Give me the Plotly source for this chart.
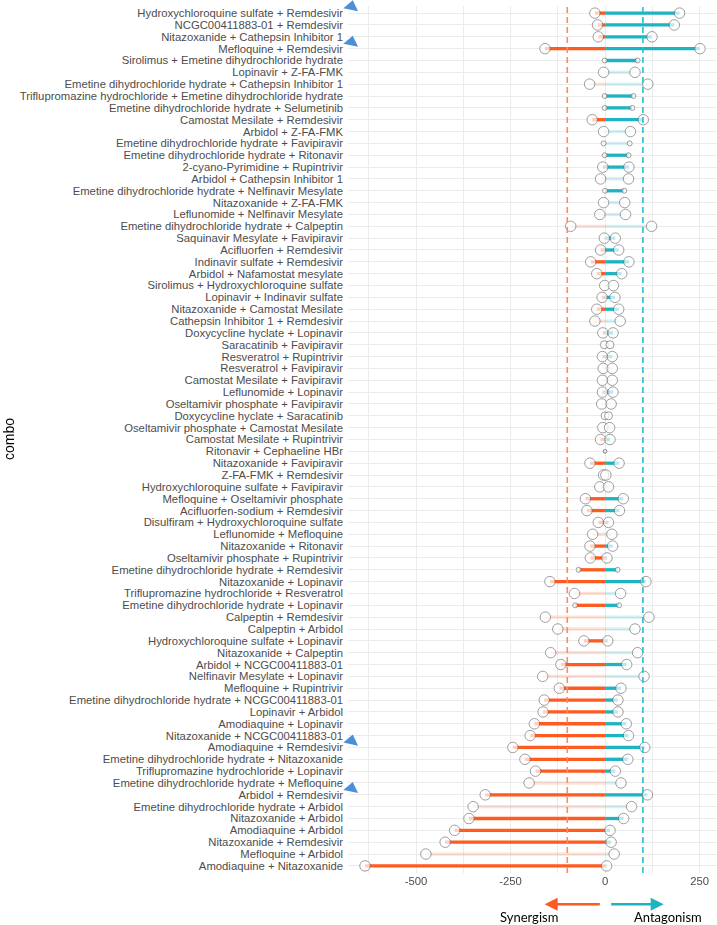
import plotly.graph_objects as go

combos = [
    "Hydroxychloroquine sulfate + Remdesivir",
    "NCGC00411883-01 + Remdesivir",
    "Nitazoxanide + Cathepsin Inhibitor 1",
    "Mefloquine + Remdesivir",
    "Sirolimus + Emetine dihydrochloride hydrate",
    "Lopinavir + Z-FA-FMK",
    "Emetine dihydrochloride hydrate + Cathepsin Inhibitor 1",
    "Triflupromazine hydrochloride + Emetine dihydrochloride hydrate",
    "Emetine dihydrochloride hydrate + Selumetinib",
    "Camostat Mesilate + Remdesivir",
    "Arbidol + Z-FA-FMK",
    "Emetine dihydrochloride hydrate + Favipiravir",
    "Emetine dihydrochloride hydrate + Ritonavir",
    "2-cyano-Pyrimidine + Rupintrivir",
    "Arbidol + Cathepsin Inhibitor 1",
    "Emetine dihydrochloride hydrate + Nelfinavir Mesylate",
    "Nitazoxanide + Z-FA-FMK",
    "Leflunomide + Nelfinavir Mesylate",
    "Emetine dihydrochloride hydrate + Calpeptin",
    "Saquinavir Mesylate + Favipiravir",
    "Acifluorfen + Remdesivir",
    "Indinavir sulfate + Remdesivir",
    "Arbidol + Nafamostat mesylate",
    "Sirolimus + Hydroxychloroquine sulfate",
    "Lopinavir + Indinavir sulfate",
    "Nitazoxanide + Camostat Mesilate",
    "Cathepsin Inhibitor 1 + Remdesivir",
    "Doxycycline hyclate + Lopinavir",
    "Saracatinib + Favipiravir",
    "Resveratrol + Rupintrivir",
    "Resveratrol + Favipiravir",
    "Camostat Mesilate + Favipiravir",
    "Leflunomide + Lopinavir",
    "Oseltamivir phosphate + Favipiravir",
    "Doxycycline hyclate + Saracatinib",
    "Oseltamivir phosphate + Camostat Mesilate",
    "Camostat Mesilate + Rupintrivir",
    "Ritonavir + Cephaeline HBr",
    "Nitazoxanide + Favipiravir",
    "Z-FA-FMK + Remdesivir",
    "Hydroxychloroquine sulfate + Favipiravir",
    "Mefloquine + Oseltamivir phosphate",
    "Acifluorfen-sodium + Remdesivir",
    "Disulfiram + Hydroxychloroquine sulfate",
    "Leflunomide + Mefloquine",
    "Nitazoxanide + Ritonavir",
    "Oseltamivir phosphate + Rupintrivir",
    "Emetine dihydrochloride hydrate + Remdesivir",
    "Nitazoxanide + Lopinavir",
    "Triflupromazine hydrochloride + Resveratrol",
    "Emetine dihydrochloride hydrate + Lopinavir",
    "Calpeptin + Remdesivir",
    "Calpeptin + Arbidol",
    "Hydroxychloroquine sulfate + Lopinavir",
    "Nitazoxanide + Calpeptin",
    "Arbidol + NCGC00411883-01",
    "Nelfinavir Mesylate + Lopinavir",
    "Mefloquine + Rupintrivir",
    "Emetine dihydrochloride hydrate + NCGC00411883-01",
    "Lopinavir + Arbidol",
    "Amodiaquine + Lopinavir",
    "Nitazoxanide + NCGC00411883-01",
    "Amodiaquine + Remdesivir",
    "Emetine dihydrochloride hydrate + Nitazoxanide",
    "Triflupromazine hydrochloride + Lopinavir",
    "Emetine dihydrochloride hydrate + Mefloquine",
    "Arbidol + Remdesivir",
    "Emetine dihydrochloride hydrate + Arbidol",
    "Nitazoxanide + Arbidol",
    "Amodiaquine + Arbidol",
    "Nitazoxanide + Remdesivir",
    "Mefloquine + Arbidol",
    "Amodiaquine + Nitazoxanide",
]

min_effect = [
    -27, -20, -18, -159, -1, -4, -41, -1, -1, -34,
    -4, -4, -1, -6, -12, 0, -4, -14, -91, -2,
    -12, -38, -22, -1, -8, -22, -27, -6, -2, -7,
    -5, -7, -7, -9, 0, -6, -12, 0, -40, -4,
    -14, -52, -48, -18, -33, -40, -39, -70, -146, -81,
    -79, -158, -125, -56, -144, -117, -165, -121, -161, -164,
    -187, -198, -244, -212, -184, -201, -317, -349, -360, -398,
    -423, -474, -635,
]

max_effect = [
    197, 183, 124, 251, 86, 79, 113, 75, 72, 101,
    67, 65, 62, 63, 62, 51, 52, 54, 123, 27,
    36, 63, 44, 22, 26, 36, 40, 21, 13, 19,
    19, 19, 21, 16, 9, 12, 13, 0, 37, 2,
    9, 48, 38, 9, 18, 20, 5, 33, 108, 41,
    37, 116, 79, 7, 86, 57, 103, 42, 34, 34,
    56, 62, 105, 60, 27, 42, 112, 70, 49, 13,
    16, 24, 4,
]

# replicate class: 0 = single, 1 = few, 2 = medium, 3 = full set
replicate_class = [
    3, 3, 3, 3, 1, 3, 3, 1, 1, 3,
    3, 1, 1, 3, 3, 1, 3, 3, 3, 3,
    3, 3, 3, 3, 3, 3, 3, 3, 2, 3,
    3, 3, 3, 3, 2, 3, 3, 0, 3, 3,
    3, 3, 3, 3, 3, 3, 3, 1, 3, 3,
    1, 3, 3, 3, 3, 3, 3, 3, 3, 3,
    3, 3, 3, 3, 3, 3, 3, 3, 3, 3,
    3, 3, 3,
]

# consistent (1) vs inconsistent (0) direction across replicates
consistent = [
    1, 1, 1, 1, 1, 0, 0, 1, 1, 1,
    0, 0, 1, 1, 0, 1, 0, 0, 0, 1,
    1, 1, 1, 0, 1, 1, 0, 1, 0, 1,
    0, 0, 1, 0, 0, 0, 1, 0, 1, 0,
    0, 1, 1, 1, 0, 1, 1, 1, 1, 0,
    1, 0, 0, 1, 0, 1, 0, 1, 1, 1,
    1, 1, 1, 1, 1, 0, 1, 0, 1, 1,
    1, 0, 1,
]

flagged = [
    "Hydroxychloroquine sulfate + Remdesivir",
    "Mefloquine + Remdesivir",
    "Amodiaquine + Remdesivir",
    "Arbidol + Remdesivir",
]

x_ticks = [-500, -250, 0, 250]
x_minor = [-625, -375, -125, 125]
threshold = 100

ORANGE = "#FF5A1F"
TEAL = "#1CB3C3"
SIZE_MAP = {0: 3.5, 1: 5, 2: 8, 3: 10.5}

n = len(combos)
ypos = [n - 1 - i for i in range(n)]

x_lo, x_hi = -680, 296

fig = go.Figure()

def seg_trace(side, solid_flag):
    xs, ys = [], []
    for i in range(n):
        if consistent[i] != solid_flag:
            continue
        v = min_effect[i] if side == "neg" else max_effect[i]
        if (side == "neg" and v < 0) or (side == "pos" and v > 0):
            xs += [0, v, None]
            ys += [ypos[i], ypos[i], None]
    color = ORANGE if side == "neg" else TEAL
    return go.Scatter(
        x=xs, y=ys, mode="lines",
        line=dict(color=color, width=3.3),
        opacity=1.0 if solid_flag else 0.18,
        hoverinfo="skip", showlegend=False,
    )

for side in ["neg", "pos"]:
    for s in [0, 1]:
        fig.add_trace(seg_trace(side, s))

sizes = [SIZE_MAP[c] for c in replicate_class]
for vals in [min_effect, max_effect]:
    fig.add_trace(go.Scatter(
        x=vals, y=ypos, mode="markers",
        marker=dict(size=sizes, color="white",
                    line=dict(color="#666666", width=0.9)),
        text=combos, showlegend=False,
    ))

flag_y = [ypos[combos.index(c)] + 0.55 for c in flagged]
fig.add_trace(go.Scatter(
    x=[x_lo + 9] * len(flagged), y=flag_y, mode="markers",
    marker=dict(symbol="triangle-up", size=13, color="#4A8FD8", angle=12),
    cliponaxis=False, hoverinfo="skip", showlegend=False,
))

fig.add_shape(type="line", xref="x", yref="paper", x0=-threshold, x1=-threshold,
              y0=0, y1=1, line=dict(color="#FF8A5C", width=1.6, dash="6px,4px"), layer="above")
fig.add_shape(type="line", xref="x", yref="paper", x0=threshold, x1=threshold,
              y0=0, y1=1, line=dict(color="#25BFD0", width=1.6, dash="6px,4px"), layer="above")

# direction arrows under the axis
fig.add_annotation(x=-160, y=-0.036, xref="x", yref="paper", ax=-10, ay=0,
                   axref="x", ayref="pixel", showarrow=True, arrowhead=2,
                   arrowsize=1, arrowwidth=2.6, arrowcolor=ORANGE, text="")
fig.add_annotation(x=155, y=-0.036, xref="x", yref="paper", ax=12, ay=0,
                   axref="x", ayref="pixel", showarrow=True, arrowhead=2,
                   arrowsize=1, arrowwidth=2.6, arrowcolor=TEAL, text="")
fig.add_annotation(x=-200, y=-0.0505, xref="x", yref="paper", text="Synergism",
                   showarrow=False, font=dict(family="Lato", size=13, color="black"),
                   xanchor="center", yanchor="middle")
fig.add_annotation(x=167, y=-0.0505, xref="x", yref="paper", text="Antagonism",
                   showarrow=False, font=dict(family="Lato", size=13, color="black"),
                   xanchor="center", yanchor="middle")

fig.add_annotation(x=-0.92, y=0.5, xref="paper", yref="paper", text="combo",
                   textangle=-90, showarrow=False,
                   font=dict(family="Liberation Sans", size=14, color="black"),
                   xanchor="center", yanchor="middle")

fig.update_layout(
    width=717, height=925,
    margin=dict(l=348, r=0, t=6, b=52, autoexpand=False),
    plot_bgcolor="white", paper_bgcolor="white",
    font=dict(family="Liberation Sans", size=11, color="#4D4D4D"),
    showlegend=False,
    xaxis=dict(
        range=[x_lo, x_hi], tickvals=x_ticks, ticktext=[str(t) for t in x_ticks],
        showgrid=True, gridcolor="#EBEBEB", gridwidth=1.1,
        minor=dict(tickvals=x_minor, showgrid=True, gridcolor="#EBEBEB", gridwidth=0.6),
        zeroline=False, showline=False, ticks="", automargin=False,
        tickfont=dict(size=11.3, color="#4D4D4D"),
    ),
    yaxis=dict(
        range=[-0.6, n - 1 + 0.6], tickvals=ypos, ticktext=combos,
        showgrid=True, gridcolor="#EBEBEB", gridwidth=1.1,
        zeroline=False, showline=False, ticks="", automargin=False,
        tickfont=dict(size=11.3, color="#4D4D4D"),
        ticklabelstandoff=4,
    ),
)

fig.write_html("out.html", config={"displayModeBar": False},
               post_script="document.body.style.margin='0';")
